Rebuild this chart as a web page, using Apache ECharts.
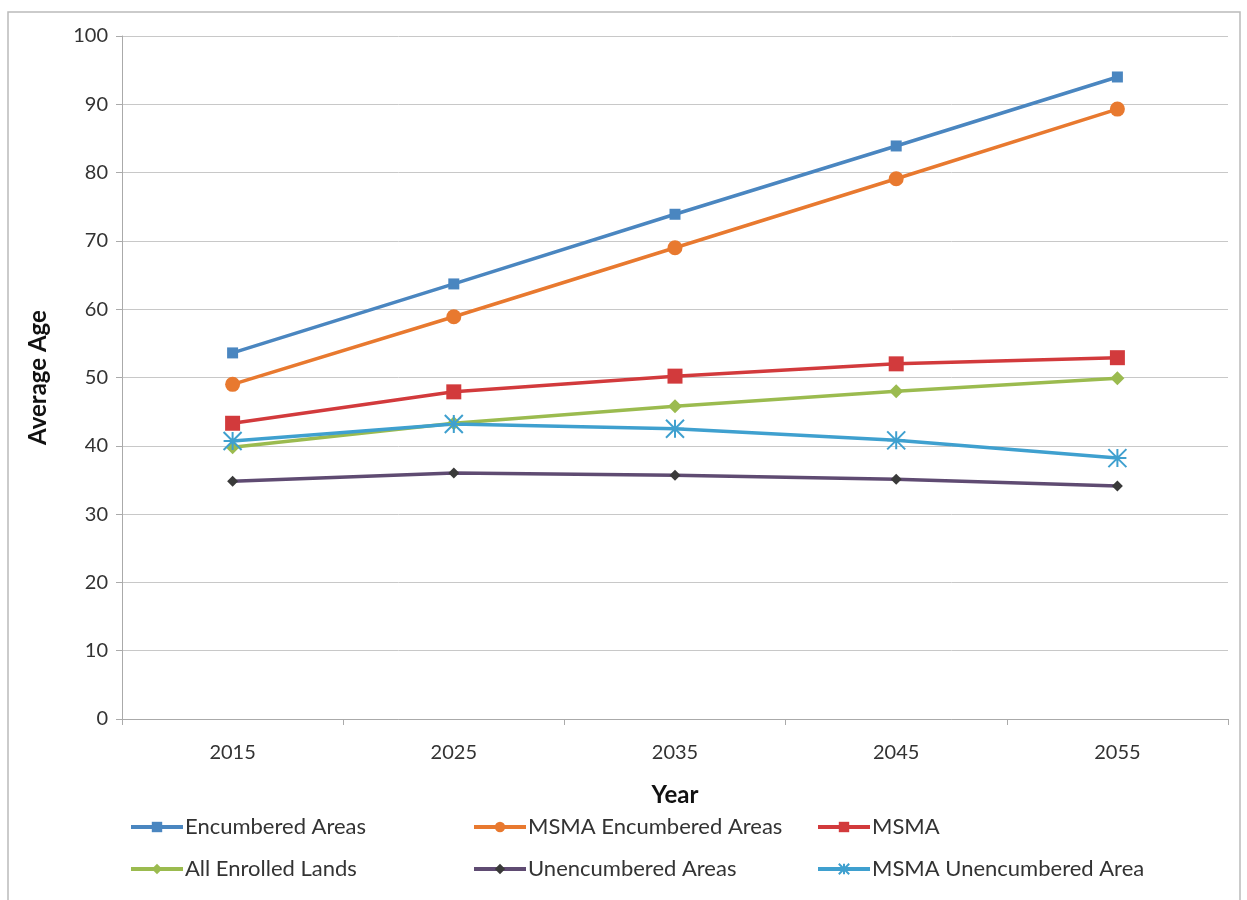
<!DOCTYPE html>
<html><head><meta charset="utf-8">
<script src="https://cdn.jsdelivr.net/npm/echarts@6/dist/echarts.min.js"></script>
<style>html,body{margin:0;padding:0;background:#fff}#c{width:1247px;height:900px}</style>
</head><body><div id="c"></div>
<script>
const years = ['2015','2025','2035','2045','2055'];
const encumbered = [53.6, 63.7, 73.9, 83.9, 94.0];
const msmaEncumbered = [49.0, 58.9, 69.0, 79.1, 89.3];
const msma = [43.3, 47.9, 50.2, 52.0, 52.9];
const allEnrolled = [39.8, 43.3, 45.8, 48.0, 49.9];
const unencumbered = [34.8, 36.0, 35.7, 35.1, 34.1];
const msmaUnencumbered = [40.7, 43.2, 42.5, 40.8, 38.2];

const font = 'Lato, "Open Sans", sans-serif';
const asterisk = 'path://M0,0L10,10M10,0L0,10M5,0L5,10M0,5L10,5';

function s(name, data, color, symbol, size, extra) {
  return Object.assign({
    name, type: 'line', data, symbol, symbolSize: size,
    lineStyle: { color, width: 3.5 },
    itemStyle: { color },
    emphasis: { disabled: true }
  }, extra || {});
}

const chart = echarts.init(document.getElementById('c'));
const legendBase = {
  orient: 'vertical', itemGap: 20, itemWidth: 52, itemHeight: 13,
  lineStyle: { width: 4 },
  textStyle: { fontFamily: font, fontSize: 22, color: '#333', padding: [0, 0, 0, -3] }, top: 811
};
chart.setOption({
  animation: false,
  backgroundColor: '#fff',
  graphic: [{ type: 'rect', shape: { x: 8, y: 12, width: 1232, height: 900 },
    style: { fill: 'none', stroke: '#bbb', lineWidth: 1.5 }, silent: true }],
  grid: { left: 122, right: 19, top: 36, bottom: 181 },
  legend: [
    Object.assign({}, legendBase, { left: 124, data: ['Encumbered Areas', 'All Enrolled Lands'] }),
    Object.assign({}, legendBase, { left: 467, data: ['MSMA Encumbered Areas', 'Unencumbered Areas'] }),
    Object.assign({}, legendBase, { left: 811, data: ['MSMA', 'MSMA Unencumbered Area'] })
  ],
  xAxis: {
    type: 'category', data: years, boundaryGap: true,
    name: 'Year', nameLocation: 'middle', nameGap: 64,
    nameTextStyle: { fontFamily: font, fontSize: 24, fontWeight: 'bold', color: '#111' },
    axisLine: { lineStyle: { color: '#aaa' } },
    axisTick: { show: true, length: 6, lineStyle: { color: '#aaa' } },
    axisLabel: { fontFamily: font, fontSize: 20, color: '#333', margin: 24 }
  },
  yAxis: {
    type: 'value', min: 0, max: 100, interval: 10,
    name: 'Average Age', nameLocation: 'middle', nameGap: 72, nameRotate: 90,
    nameTextStyle: { fontFamily: font, fontSize: 24, fontWeight: 'bold', color: '#111' },
    axisLine: { show: true, lineStyle: { color: '#aaa' } },
    axisTick: { show: true, length: 6, lineStyle: { color: '#aaa' } },
    axisLabel: { fontFamily: font, fontSize: 20, color: '#333', margin: 14 },
    splitLine: { lineStyle: { color: '#c8c8c8' } }
  },
  series: [
    s('Encumbered Areas', encumbered, '#4a86c0', 'rect', 11),
    s('MSMA Encumbered Areas', msmaEncumbered, '#e8792f', 'circle', 15),
    s('MSMA', msma, '#d23a3c', 'rect', 15),
    s('All Enrolled Lands', allEnrolled, '#9bbb4f', 'diamond', 14),
    s('Unencumbered Areas', unencumbered, '#5f4b72', 'diamond', 11, {
      itemStyle: { color: '#3a3a3a' }, lineStyle: { color: '#5f4b72', width: 3.5 } }),
    s('MSMA Unencumbered Area', msmaUnencumbered, '#3fa0cf', asterisk, 18, {
      itemStyle: { color: '#3fa0cf', borderColor: '#3fa0cf', borderWidth: 2 } })
  ]
});
</script></body></html>
